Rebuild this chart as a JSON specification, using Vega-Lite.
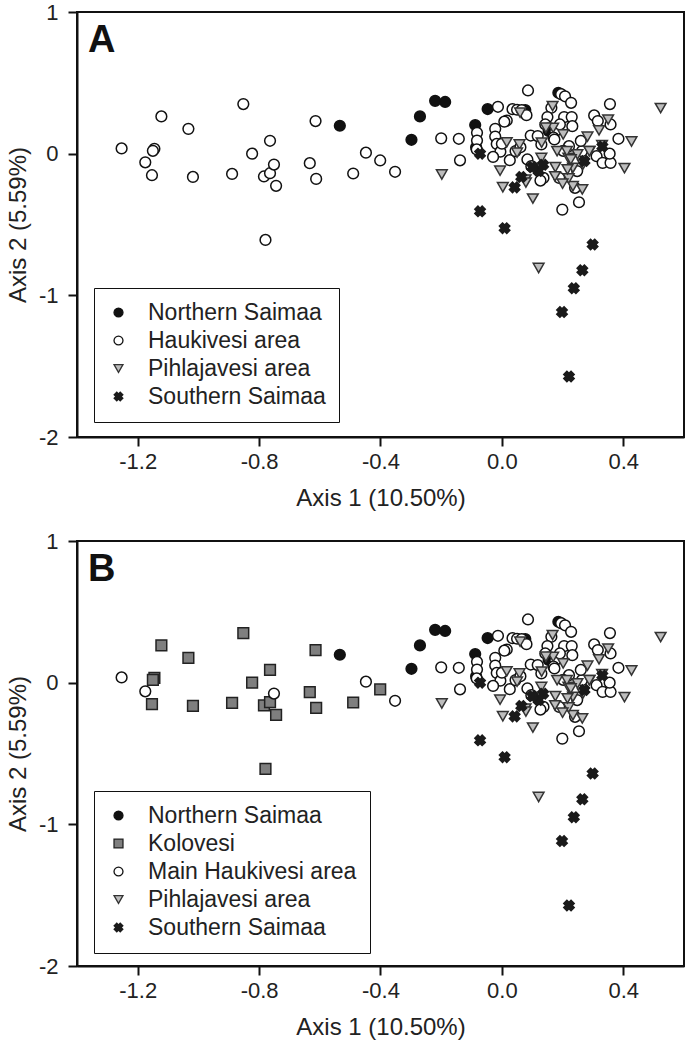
{
  "$schema": "https://vega.github.io/schema/vega-lite/v6.json",
  "background": "white",
  "padding": {"left": 5, "top": 0, "right": 0, "bottom": 0},
  "spacing": 18,
  "config": {
    "font": "Liberation Sans",
    "view": {"stroke": "#111", "strokeWidth": 2},
    "axis": {"grid": false, "domainColor": "#111", "domainWidth": 2, "tickColor": "#111", "tickWidth": 2, "tickSize": 9, "labelFontSize": 22, "labelColor": "#222", "titleFontSize": 24, "titleFontWeight": "normal", "titleColor": "#222"},
    "legend": {"labelFontSize": 23, "labelColor": "#222", "labelLimit": 500, "strokeColor": "#111", "fillColor": "white", "padding": 13, "rowPadding": 4, "symbolSize": 80, "symbolStrokeWidth": 1.3, "labelOffset": 18},
    "title": {"anchor": "start", "frame": "group", "fontSize": 38, "fontWeight": "bold", "color": "#111", "offset": 0, "dx": 11, "dy": 63, "baseline": "alphabetic"}
  },
  "resolve": {
    "scale": {"shape": "independent", "fill": "independent", "stroke": "independent"},
    "legend": {"shape": "independent", "fill": "independent", "stroke": "independent"}
  },
  "datasets": {
    "pts": [
      {"x": -0.534, "y": 0.197, "a": "Northern Saimaa", "b": "Northern Saimaa"},
      {"x": -0.298, "y": 0.098, "a": "Northern Saimaa", "b": "Northern Saimaa"},
      {"x": -0.270, "y": 0.263, "a": "Northern Saimaa", "b": "Northern Saimaa"},
      {"x": -0.220, "y": 0.373, "a": "Northern Saimaa", "b": "Northern Saimaa"},
      {"x": -0.187, "y": 0.365, "a": "Northern Saimaa", "b": "Northern Saimaa"},
      {"x": -0.088, "y": 0.202, "a": "Northern Saimaa", "b": "Northern Saimaa"},
      {"x": -0.047, "y": 0.315, "a": "Northern Saimaa", "b": "Northern Saimaa"},
      {"x": 0.077, "y": 0.308, "a": "Northern Saimaa", "b": "Northern Saimaa"},
      {"x": 0.186, "y": 0.430, "a": "Northern Saimaa", "b": "Northern Saimaa"},
      {"x": 0.154, "y": 0.160, "a": "Northern Saimaa", "b": "Northern Saimaa"},
      {"x": -0.085, "y": 0.045, "a": "Northern Saimaa", "b": "Northern Saimaa"},

      {"x": -1.122, "y": 0.263, "a": "Haukivesi area", "b": "Kolovesi"},
      {"x": -1.033, "y": 0.175, "a": "Haukivesi area", "b": "Kolovesi"},
      {"x": -0.852, "y": 0.350, "a": "Haukivesi area", "b": "Kolovesi"},
      {"x": -1.145, "y": 0.034, "a": "Haukivesi area", "b": "Kolovesi"},
      {"x": -1.150, "y": 0.020, "a": "Haukivesi area", "b": "Kolovesi"},
      {"x": -1.153, "y": -0.152, "a": "Haukivesi area", "b": "Kolovesi"},
      {"x": -1.018, "y": -0.164, "a": "Haukivesi area", "b": "Kolovesi"},
      {"x": -0.889, "y": -0.143, "a": "Haukivesi area", "b": "Kolovesi"},
      {"x": -0.823, "y": 0.000, "a": "Haukivesi area", "b": "Kolovesi"},
      {"x": -0.764, "y": 0.091, "a": "Haukivesi area", "b": "Kolovesi"},
      {"x": -0.784, "y": -0.161, "a": "Haukivesi area", "b": "Kolovesi"},
      {"x": -0.764, "y": -0.138, "a": "Haukivesi area", "b": "Kolovesi"},
      {"x": -0.744, "y": -0.227, "a": "Haukivesi area", "b": "Kolovesi"},
      {"x": -0.779, "y": -0.609, "a": "Haukivesi area", "b": "Kolovesi"},
      {"x": -0.614, "y": 0.230, "a": "Haukivesi area", "b": "Kolovesi"},
      {"x": -0.633, "y": -0.067, "a": "Haukivesi area", "b": "Kolovesi"},
      {"x": -0.612, "y": -0.178, "a": "Haukivesi area", "b": "Kolovesi"},
      {"x": -0.490, "y": -0.140, "a": "Haukivesi area", "b": "Kolovesi"},
      {"x": -0.401, "y": -0.048, "a": "Haukivesi area", "b": "Kolovesi"},

      {"x": -1.253, "y": 0.037, "a": "Haukivesi area", "b": "Main Haukivesi area"},
      {"x": -1.175, "y": -0.061, "a": "Haukivesi area", "b": "Main Haukivesi area"},
      {"x": -0.751, "y": -0.077, "a": "Haukivesi area", "b": "Main Haukivesi area"},
      {"x": -0.448, "y": 0.007, "a": "Haukivesi area", "b": "Main Haukivesi area"},
      {"x": -0.352, "y": -0.128, "a": "Haukivesi area", "b": "Main Haukivesi area"},
      {"x": -0.200, "y": 0.108, "a": "Haukivesi area", "b": "Main Haukivesi area"},
      {"x": -0.142, "y": 0.105, "a": "Haukivesi area", "b": "Main Haukivesi area"},
      {"x": -0.138, "y": -0.047, "a": "Haukivesi area", "b": "Main Haukivesi area"},
      {"x": 0.086, "y": 0.446, "a": "Haukivesi area", "b": "Main Haukivesi area"},
      {"x": 0.195, "y": 0.420, "a": "Haukivesi area", "b": "Main Haukivesi area"},
      {"x": 0.208, "y": 0.405, "a": "Haukivesi area", "b": "Main Haukivesi area"},
      {"x": 0.228, "y": 0.359, "a": "Haukivesi area", "b": "Main Haukivesi area"},
      {"x": -0.013, "y": 0.331, "a": "Haukivesi area", "b": "Main Haukivesi area"},
      {"x": 0.035, "y": 0.314, "a": "Haukivesi area", "b": "Main Haukivesi area"},
      {"x": 0.050, "y": 0.310, "a": "Haukivesi area", "b": "Main Haukivesi area"},
      {"x": 0.065, "y": 0.308, "a": "Haukivesi area", "b": "Main Haukivesi area"},
      {"x": 0.081, "y": 0.272, "a": "Haukivesi area", "b": "Main Haukivesi area"},
      {"x": 0.163, "y": 0.324, "a": "Haukivesi area", "b": "Main Haukivesi area"},
      {"x": 0.150, "y": 0.258, "a": "Haukivesi area", "b": "Main Haukivesi area"},
      {"x": 0.205, "y": 0.258, "a": "Haukivesi area", "b": "Main Haukivesi area"},
      {"x": 0.230, "y": 0.258, "a": "Haukivesi area", "b": "Main Haukivesi area"},
      {"x": 0.016, "y": 0.234, "a": "Haukivesi area", "b": "Main Haukivesi area"},
      {"x": -0.022, "y": 0.175, "a": "Haukivesi area", "b": "Main Haukivesi area"},
      {"x": -0.082, "y": 0.147, "a": "Haukivesi area", "b": "Main Haukivesi area"},
      {"x": -0.082, "y": 0.093, "a": "Haukivesi area", "b": "Main Haukivesi area"},
      {"x": -0.083, "y": 0.030, "a": "Haukivesi area", "b": "Main Haukivesi area"},
      {"x": -0.022, "y": 0.121, "a": "Haukivesi area", "b": "Main Haukivesi area"},
      {"x": -0.017, "y": 0.069, "a": "Haukivesi area", "b": "Main Haukivesi area"},
      {"x": -0.005, "y": 0.014, "a": "Haukivesi area", "b": "Main Haukivesi area"},
      {"x": -0.029, "y": -0.023, "a": "Haukivesi area", "b": "Main Haukivesi area"},
      {"x": 0.026, "y": -0.046, "a": "Haukivesi area", "b": "Main Haukivesi area"},
      {"x": 0.045, "y": 0.018, "a": "Haukivesi area", "b": "Main Haukivesi area"},
      {"x": 0.061, "y": 0.046, "a": "Haukivesi area", "b": "Main Haukivesi area"},
      {"x": 0.095, "y": 0.128, "a": "Haukivesi area", "b": "Main Haukivesi area"},
      {"x": 0.118, "y": 0.124, "a": "Haukivesi area", "b": "Main Haukivesi area"},
      {"x": 0.176, "y": 0.159, "a": "Haukivesi area", "b": "Main Haukivesi area"},
      {"x": 0.143, "y": 0.206, "a": "Haukivesi area", "b": "Main Haukivesi area"},
      {"x": 0.191, "y": 0.206, "a": "Haukivesi area", "b": "Main Haukivesi area"},
      {"x": 0.232, "y": 0.194, "a": "Haukivesi area", "b": "Main Haukivesi area"},
      {"x": 0.170, "y": 0.113, "a": "Haukivesi area", "b": "Main Haukivesi area"},
      {"x": 0.304, "y": 0.270, "a": "Haukivesi area", "b": "Main Haukivesi area"},
      {"x": 0.356, "y": 0.350, "a": "Haukivesi area", "b": "Main Haukivesi area"},
      {"x": 0.316, "y": 0.230, "a": "Haukivesi area", "b": "Main Haukivesi area"},
      {"x": 0.358, "y": 0.206, "a": "Haukivesi area", "b": "Main Haukivesi area"},
      {"x": 0.384, "y": 0.105, "a": "Haukivesi area", "b": "Main Haukivesi area"},
      {"x": 0.312, "y": -0.018, "a": "Haukivesi area", "b": "Main Haukivesi area"},
      {"x": 0.332, "y": -0.065, "a": "Haukivesi area", "b": "Main Haukivesi area"},
      {"x": 0.358, "y": -0.065, "a": "Haukivesi area", "b": "Main Haukivesi area"},
      {"x": 0.355, "y": 0.000, "a": "Haukivesi area", "b": "Main Haukivesi area"},
      {"x": 0.264, "y": 0.018, "a": "Haukivesi area", "b": "Main Haukivesi area"},
      {"x": 0.221, "y": 0.053, "a": "Haukivesi area", "b": "Main Haukivesi area"},
      {"x": 0.130, "y": 0.065, "a": "Haukivesi area", "b": "Main Haukivesi area"},
      {"x": 0.084, "y": -0.041, "a": "Haukivesi area", "b": "Main Haukivesi area"},
      {"x": 0.097, "y": -0.088, "a": "Haukivesi area", "b": "Main Haukivesi area"},
      {"x": 0.137, "y": -0.171, "a": "Haukivesi area", "b": "Main Haukivesi area"},
      {"x": 0.189, "y": -0.171, "a": "Haukivesi area", "b": "Main Haukivesi area"},
      {"x": 0.241, "y": -0.241, "a": "Haukivesi area", "b": "Main Haukivesi area"},
      {"x": 0.254, "y": -0.343, "a": "Haukivesi area", "b": "Main Haukivesi area"},
      {"x": 0.199, "y": -0.395, "a": "Haukivesi area", "b": "Main Haukivesi area"},
      {"x": 0.173, "y": 0.100, "a": "Haukivesi area", "b": "Main Haukivesi area"},
      {"x": 0.202, "y": 0.020, "a": "Haukivesi area", "b": "Main Haukivesi area"},
      {"x": 0.260, "y": 0.090, "a": "Haukivesi area", "b": "Main Haukivesi area"},
      {"x": 0.248, "y": -0.123, "a": "Haukivesi area", "b": "Main Haukivesi area"},
      {"x": 0.127, "y": -0.190, "a": "Haukivesi area", "b": "Main Haukivesi area"},
      {"x": 0.000, "y": 0.070, "a": "Haukivesi area", "b": "Main Haukivesi area"},
      {"x": 0.008, "y": 0.226, "a": "Haukivesi area", "b": "Main Haukivesi area"},

      {"x": 0.523, "y": 0.322, "a": "Pihlajavesi area", "b": "Pihlajavesi area"},
      {"x": 0.427, "y": 0.086, "a": "Pihlajavesi area", "b": "Pihlajavesi area"},
      {"x": 0.404, "y": -0.102, "a": "Pihlajavesi area", "b": "Pihlajavesi area"},
      {"x": 0.350, "y": 0.241, "a": "Pihlajavesi area", "b": "Pihlajavesi area"},
      {"x": 0.320, "y": 0.165, "a": "Pihlajavesi area", "b": "Pihlajavesi area"},
      {"x": 0.282, "y": 0.120, "a": "Pihlajavesi area", "b": "Pihlajavesi area"},
      {"x": 0.289, "y": 0.018, "a": "Pihlajavesi area", "b": "Pihlajavesi area"},
      {"x": 0.267, "y": -0.077, "a": "Pihlajavesi area", "b": "Pihlajavesi area"},
      {"x": 0.265, "y": -0.252, "a": "Pihlajavesi area", "b": "Pihlajavesi area"},
      {"x": 0.234, "y": -0.230, "a": "Pihlajavesi area", "b": "Pihlajavesi area"},
      {"x": 0.220, "y": -0.175, "a": "Pihlajavesi area", "b": "Pihlajavesi area"},
      {"x": 0.200, "y": -0.212, "a": "Pihlajavesi area", "b": "Pihlajavesi area"},
      {"x": 0.234, "y": -0.100, "a": "Pihlajavesi area", "b": "Pihlajavesi area"},
      {"x": 0.216, "y": -0.111, "a": "Pihlajavesi area", "b": "Pihlajavesi area"},
      {"x": 0.219, "y": -0.030, "a": "Pihlajavesi area", "b": "Pihlajavesi area"},
      {"x": 0.182, "y": 0.018, "a": "Pihlajavesi area", "b": "Pihlajavesi area"},
      {"x": 0.169, "y": 0.182, "a": "Pihlajavesi area", "b": "Pihlajavesi area"},
      {"x": 0.167, "y": 0.336, "a": "Pihlajavesi area", "b": "Pihlajavesi area"},
      {"x": 0.202, "y": 0.136, "a": "Pihlajavesi area", "b": "Pihlajavesi area"},
      {"x": 0.176, "y": -0.095, "a": "Pihlajavesi area", "b": "Pihlajavesi area"},
      {"x": 0.130, "y": -0.030, "a": "Pihlajavesi area", "b": "Pihlajavesi area"},
      {"x": 0.131, "y": 0.078, "a": "Pihlajavesi area", "b": "Pihlajavesi area"},
      {"x": 0.104, "y": -0.100, "a": "Pihlajavesi area", "b": "Pihlajavesi area"},
      {"x": 0.078, "y": -0.183, "a": "Pihlajavesi area", "b": "Pihlajavesi area"},
      {"x": 0.102, "y": -0.317, "a": "Pihlajavesi area", "b": "Pihlajavesi area"},
      {"x": 0.003, "y": -0.237, "a": "Pihlajavesi area", "b": "Pihlajavesi area"},
      {"x": -0.006, "y": -0.120, "a": "Pihlajavesi area", "b": "Pihlajavesi area"},
      {"x": 0.016, "y": 0.080, "a": "Pihlajavesi area", "b": "Pihlajavesi area"},
      {"x": 0.060, "y": 0.289, "a": "Pihlajavesi area", "b": "Pihlajavesi area"},
      {"x": -0.198, "y": -0.147, "a": "Pihlajavesi area", "b": "Pihlajavesi area"},
      {"x": 0.121, "y": -0.807, "a": "Pihlajavesi area", "b": "Pihlajavesi area"},
      {"x": 0.249, "y": -0.005, "a": "Pihlajavesi area", "b": "Pihlajavesi area"},
      {"x": 0.058, "y": 0.065, "a": "Pihlajavesi area", "b": "Pihlajavesi area"},
      {"x": 0.050, "y": 0.007, "a": "Pihlajavesi area", "b": "Pihlajavesi area"},
      {"x": 0.330, "y": 0.061, "a": "Pihlajavesi area", "b": "Pihlajavesi area"},
      {"x": 0.145, "y": 0.183, "a": "Pihlajavesi area", "b": "Pihlajavesi area"},
      {"x": 0.214, "y": 0.018, "a": "Pihlajavesi area", "b": "Pihlajavesi area"},
      {"x": 0.227, "y": -0.041, "a": "Pihlajavesi area", "b": "Pihlajavesi area"},
      {"x": 0.175, "y": -0.160, "a": "Pihlajavesi area", "b": "Pihlajavesi area"},
      {"x": 0.079, "y": -0.204, "a": "Pihlajavesi area", "b": "Pihlajavesi area"},
      {"x": 0.288, "y": 0.018, "a": "Pihlajavesi area", "b": "Pihlajavesi area"},

      {"x": -0.072, "y": 0.000, "a": "Southern Saimaa", "b": "Southern Saimaa"},
      {"x": -0.072, "y": -0.407, "a": "Southern Saimaa", "b": "Southern Saimaa"},
      {"x": 0.009, "y": -0.526, "a": "Southern Saimaa", "b": "Southern Saimaa"},
      {"x": 0.042, "y": -0.238, "a": "Southern Saimaa", "b": "Southern Saimaa"},
      {"x": 0.064, "y": -0.165, "a": "Southern Saimaa", "b": "Southern Saimaa"},
      {"x": 0.121, "y": -0.123, "a": "Southern Saimaa", "b": "Southern Saimaa"},
      {"x": 0.136, "y": -0.078, "a": "Southern Saimaa", "b": "Southern Saimaa"},
      {"x": 0.100, "y": -0.095, "a": "Southern Saimaa", "b": "Southern Saimaa"},
      {"x": 0.272, "y": -0.052, "a": "Southern Saimaa", "b": "Southern Saimaa"},
      {"x": 0.331, "y": 0.050, "a": "Southern Saimaa", "b": "Southern Saimaa"},
      {"x": 0.299, "y": -0.641, "a": "Southern Saimaa", "b": "Southern Saimaa"},
      {"x": 0.265, "y": -0.823, "a": "Southern Saimaa", "b": "Southern Saimaa"},
      {"x": 0.237, "y": -0.950, "a": "Southern Saimaa", "b": "Southern Saimaa"},
      {"x": 0.198, "y": -1.118, "a": "Southern Saimaa", "b": "Southern Saimaa"},
      {"x": 0.221, "y": -1.573, "a": "Southern Saimaa", "b": "Southern Saimaa"}
    ]
  },
  "vconcat": [
    {
      "width": 607,
      "height": 425,
      "title": {"text": "A"},
      "data": {"name": "pts"},
      "mark": {"type": "point", "filled": true, "opacity": 1, "strokeWidth": 1.5, "size": 115},
      "encoding": {
        "x": {"field": "x", "type": "quantitative", "scale": {"domain": [-1.4, 0.6], "nice": false, "zero": false},
              "axis": {"values": [-1.2, -0.8, -0.4, 0, 0.4], "format": ".1f", "labelExpr": "replace(datum.label, '−', '-')", "title": "Axis 1 (10.50%)", "labelPadding": 5, "titlePadding": 14}},
        "y": {"field": "y", "type": "quantitative", "scale": {"domain": [-2, 1], "nice": false, "zero": false},
              "axis": {"values": [1, 0, -1, -2], "format": "d", "labelExpr": "replace(datum.label, '−', '-')", "title": "Axis 2 (5.59%)", "labelPadding": 10, "titlePadding": 8}},
        "shape": {"field": "a", "type": "nominal",
                  "scale": {"domain": ["Northern Saimaa", "Haukivesi area", "Pihlajavesi area", "Southern Saimaa"],
                            "range": ["circle", "circle", "triangle-down", "M-0.39,-1.17L0,-0.78L0.39,-1.17L1.17,-0.39L0.78,0L1.17,0.39L0.39,1.17L0,0.78L-0.39,1.17L-1.17,0.39L-0.78,0L-1.17,-0.39Z"]},
                  "legend": {"title": null, "orient": "none", "legendX": 17, "legendY": 276, "encode": {"legend": {"update": {"strokeWidth": {"value": 2}}}}}},
        "fill": {"field": "a", "type": "nominal",
                 "scale": {"domain": ["Northern Saimaa", "Haukivesi area", "Pihlajavesi area", "Southern Saimaa"],
                           "range": ["#111111", "#ffffff", "#bdbdbd", "#1a1a1a"]},
                 "legend": {"title": null, "orient": "none", "legendX": 17, "legendY": 276, "encode": {"legend": {"update": {"strokeWidth": {"value": 2}}}}}},
        "stroke": {"field": "a", "type": "nominal",
                   "scale": {"domain": ["Northern Saimaa", "Haukivesi area", "Pihlajavesi area", "Southern Saimaa"],
                             "range": ["#111111", "#111111", "#333333", "transparent"]},
                   "legend": {"title": null, "orient": "none", "legendX": 17, "legendY": 276, "encode": {"legend": {"update": {"strokeWidth": {"value": 2}}}}}}
      }
    },
    {
      "width": 607,
      "height": 425,
      "title": {"text": "B"},
      "data": {"name": "pts"},
      "mark": {"type": "point", "filled": true, "opacity": 1, "strokeWidth": 1.5, "size": 115},
      "encoding": {
        "x": {"field": "x", "type": "quantitative", "scale": {"domain": [-1.4, 0.6], "nice": false, "zero": false},
              "axis": {"values": [-1.2, -0.8, -0.4, 0, 0.4], "format": ".1f", "labelExpr": "replace(datum.label, '−', '-')", "title": "Axis 1 (10.50%)", "labelPadding": 5, "titlePadding": 14}},
        "y": {"field": "y", "type": "quantitative", "scale": {"domain": [-2, 1], "nice": false, "zero": false},
              "axis": {"values": [1, 0, -1, -2], "format": "d", "labelExpr": "replace(datum.label, '−', '-')", "title": "Axis 2 (5.59%)", "labelPadding": 10, "titlePadding": 8}},
        "shape": {"field": "b", "type": "nominal",
                  "scale": {"domain": ["Northern Saimaa", "Kolovesi", "Main Haukivesi area", "Pihlajavesi area", "Southern Saimaa"],
                            "range": ["circle", "square", "circle", "triangle-down", "M-0.39,-1.17L0,-0.78L0.39,-1.17L1.17,-0.39L0.78,0L1.17,0.39L0.39,1.17L0,0.78L-0.39,1.17L-1.17,0.39L-0.78,0L-1.17,-0.39Z"]},
                  "legend": {"title": null, "orient": "none", "legendX": 17, "legendY": 250, "encode": {"legend": {"update": {"strokeWidth": {"value": 2}}}}}},
        "fill": {"field": "b", "type": "nominal",
                 "scale": {"domain": ["Northern Saimaa", "Kolovesi", "Main Haukivesi area", "Pihlajavesi area", "Southern Saimaa"],
                           "range": ["#111111", "#7f7f7f", "#ffffff", "#bdbdbd", "#1a1a1a"]},
                 "legend": {"title": null, "orient": "none", "legendX": 17, "legendY": 250, "encode": {"legend": {"update": {"strokeWidth": {"value": 2}}}}}},
        "stroke": {"field": "b", "type": "nominal",
                   "scale": {"domain": ["Northern Saimaa", "Kolovesi", "Main Haukivesi area", "Pihlajavesi area", "Southern Saimaa"],
                             "range": ["#111111", "#222222", "#111111", "#333333", "transparent"]},
                   "legend": {"title": null, "orient": "none", "legendX": 17, "legendY": 250, "encode": {"legend": {"update": {"strokeWidth": {"value": 2}}}}}}
      }
    }
  ]
}
